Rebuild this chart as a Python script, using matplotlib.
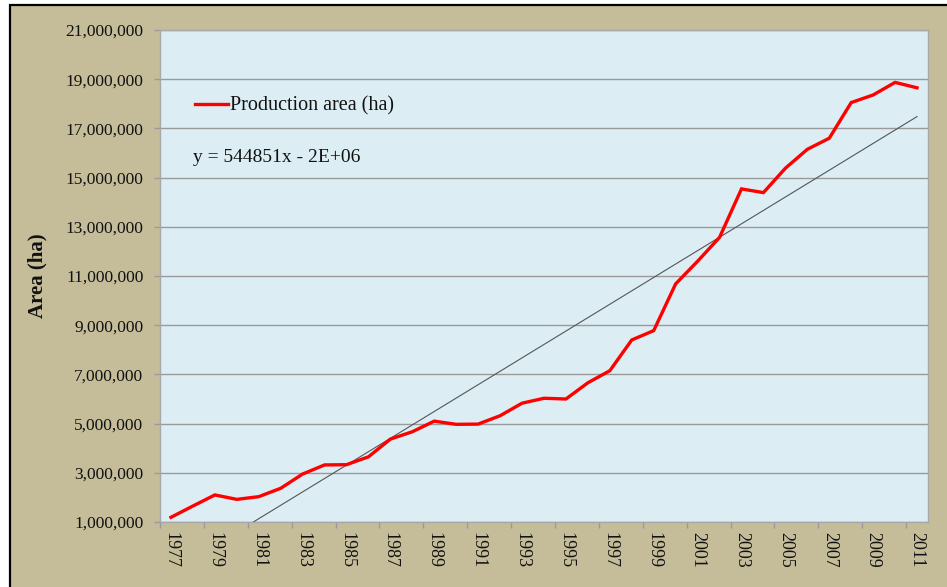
import matplotlib
matplotlib.use("Agg")
import matplotlib.pyplot as plt
from matplotlib.patches import Rectangle
import numpy as np

years = list(range(1977, 2012))
area = [1.19e6, 1.65e6, 2.10e6, 1.92e6, 2.03e6, 2.37e6, 2.95e6, 3.32e6, 3.33e6, 3.65e6,
        4.37e6, 4.67e6, 5.10e6, 4.97e6, 4.98e6, 5.32e6, 5.83e6, 6.03e6, 6.00e6, 6.66e6,
        7.15e6, 8.40e6, 8.78e6, 10.68e6, 11.60e6, 12.57e6, 14.54e6, 14.39e6, 15.38e6, 16.15e6,
        16.60e6, 18.05e6, 18.36e6, 18.87e6, 18.65e6]
trend_slope = 544851
trend_intercept = -1.59e6
series_label = "Production area (ha)"
equation_text = "y = 544851x - 2E+06"
y_label = "Area (ha)"
y_ticks = list(range(1000000, 21000001, 2000000))

W, H = 947, 587
fig = plt.figure(figsize=(W / 100, H / 100), dpi=100, facecolor="white")
plt.rcParams["font.family"] = ["Liberation Serif", "DejaVu Serif"]

# tan panel with black frame
bg = Rectangle((10 / W, -0.01), 1.0, 1 - 5 / H + 0.01, transform=fig.transFigure,
               facecolor="#C5BD99", edgecolor="black", linewidth=1.6, zorder=-10)
fig.patches.append(bg)

ax = fig.add_axes([160 / W, 1 - 522 / H, (928 - 160) / W, (522 - 30) / H])
ax.set_zorder(1)
ax.set_facecolor("#DCEEF4")

x = np.arange(1, len(years) + 1)
ax.plot(x, area, color="#FF0000", linewidth=2.4, label=series_label, zorder=3,
        solid_joinstyle="miter")
trend = trend_slope * x + trend_intercept
ax.plot(x, trend, color="#555555", linewidth=0.8, zorder=2)

ax.set_xlim(0.5, len(years) + 0.5)
ax.set_ylim(1000000, 21000000)
ax.set_yticks(y_ticks)
ax.set_yticklabels([f"{v:,}" for v in y_ticks], fontsize=12.5, color="#111111")
ax.grid(axis="y", color="#9A9A9A", linewidth=1.0)
ax.set_axisbelow(True)

ax.set_xticks(x[::2])
ax.set_xticklabels([str(y) for y in years[::2]], rotation=-90, fontsize=13, color="#111111")
ax.set_xticks(np.arange(0.5, len(years), 2), minor=True)
ax.tick_params(axis="x", which="major", length=0, pad=7)
ax.tick_params(axis="x", which="minor", length=4, color="#9A9A9A", width=1)
ax.tick_params(axis="y", which="major", length=4, color="#9A9A9A", width=1, pad=8)

for s in ax.spines.values():
    s.set_color("#A8A8A8")
    s.set_linewidth(1.0)

ax.set_ylabel(y_label, fontsize=15, fontweight="bold", color="#111111", labelpad=0)
ax.yaxis.set_label_coords(-0.146, 0.5)

leg = ax.legend(loc="center left", bbox_to_anchor=(0.045, 0.8455), frameon=False,
                fontsize=14.5, handlelength=1.65, handletextpad=0.1, borderpad=0,
                borderaxespad=0)
for t in leg.get_texts():
    t.set_color("#111111")

ax.text(0.043, 0.74, equation_text, transform=ax.transAxes, fontsize=14,
        va="center", ha="left", color="#111111")

fig.savefig("out.png", dpi=100, facecolor="white")
